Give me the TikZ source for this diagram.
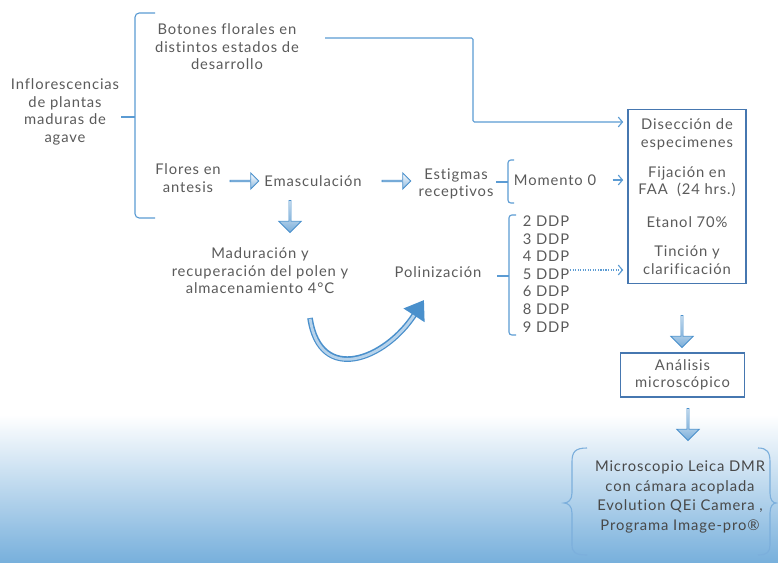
\documentclass[tikz,border=0pt]{standalone}
\usepackage{fontspec}
\setmainfont{Lato}[LetterSpace=6, Ligatures=NoCommon]
\usetikzlibrary{positioning,shapes.arrows,arrows.meta}
\definecolor{txtgray}{HTML}{5A5A5A}
\definecolor{lineblue}{HTML}{5B9BD3}
\definecolor{boxblue}{HTML}{4677B0}
\definecolor{arrowblue}{HTML}{4A90CC}
\definecolor{fadeblue}{HTML}{78B0DC}
\tikzset{
  every node/.style={text=txtgray, font=\fontsize{10.5}{12.5}\selectfont, inner sep=1.5pt},
  lbl/.style={align=center},
  conn/.style={lineblue, line width=0.8pt},
  arr/.style={conn, -{Straight Barb[length=3pt,width=7pt]}},
  hblock/.style={single arrow, draw=arrowblue, line width=0.6pt, inner sep=0pt,
    top color=white, bottom color=arrowblue!65, minimum height=0.72cm,
    minimum width=0.4cm, single arrow head extend=2.8pt},
  vblock/.style={hblock, shape border rotate=270, minimum height=0.8cm,
    minimum width=0.56cm, single arrow head extend=3pt,
    top color=white, bottom color=arrowblue!75},
  stepbox/.style={draw=boxblue, line width=0.8pt, align=center, inner sep=0pt}
}
\begin{document}
\begin{tikzpicture}[x=0.025cm, y=-0.025cm]
\useasboundingbox (0,0) rectangle (778,562);
% background
\shade[top color=white, bottom color=fadeblue] (0,415) rectangle (778,562);

% texts
\node[lbl] (infl) at (65,112) {Inflorescencias\\de plantas\\maduras de\\agave};
\node[lbl] (bot) at (227,47) {Botones florales en\\distintos estados de\\desarrollo};
\node[lbl] (flo) at (188,178) {Flores en\\antesis};
\node (emas) at (313,181) {Emasculación};
\node[lbl] (estig) at (456,184) {Estigmas\\receptivos};
\node (mom) at (555,180) {Momento 0};
\node[lbl] (madu) at (260,271) {Maduración y\\recuperación del polen y\\almacenamiento 4°C};
\node (poli) at (438,272) {Polinización};
\node[align=left] (ddp) at (546,274) {2 DDP\\3 DDP\\4 DDP\\5 DDP\\6 DDP\\8 DDP\\9 DDP};

% boxes
\node[stepbox, minimum width=2.95cm, minimum height=4.33cm] (box) at (687,196.5)
  {Disección de\\especimenes\\[8.8pt]Fijación en\\FAA~~(24 hrs.)\\[11pt]Etanol 70\%\\[8pt]Tinción y\\clarificación};
\node[stepbox, minimum width=3.12cm, minimum height=1.1cm] (anal) at (682.5,375)
  {Análisis\\microscópico};
\node[lbl, text=txtgray!80!black, font=\fontsize{10.5}{13.8}\selectfont] (micro) at (680,497)
  {Microscopio Leica DMR\\con cámara acoplada\\Evolution QEi Camera ,\\Programa Image-pro®};

% block arrows
\node[hblock] (a1) at (244,181) {};
\node[hblock] (a2) at (396,181) {};
\node[vblock] (d1) at (290,216) {};
\node[vblock] (d2) at (682,331) {};
\node[vblock] (d3) at (688,424) {};

% brackets
\coordinate (bkt) at (135,117);
\draw[conn, rounded corners=3pt] (155,13) -| (135,218) -- (155,218);
\draw[conn] (bkt -| infl.east) -- (bkt);
\draw[conn, rounded corners=2pt] (514,160) -| (508,203) -- (514,203);
\draw[conn] (496,182) -- (508,182);
\draw[conn, rounded corners=2pt] (516,215) -| (509,335) -- (516,335);
\draw[conn] (497,276) -- (509,276);

% braces
\draw[conn, lineblue!80] (587,448) .. controls (575,448) and (572,452) .. (572,462) -- (572,493)
  .. controls (572,500) and (568,503) .. (564,503) .. controls (568,503) and (572,506) .. (572,513)
  -- (572,545) .. controls (572,552) and (575,555) .. (587,555);
\draw[conn, lineblue!80] (758,448) .. controls (767,448) and (770,452) .. (770,462) -- (770,493)
  .. controls (770,500) and (773,503) .. (776,503) .. controls (773,503) and (770,506) .. (770,513)
  -- (770,545) .. controls (770,552) and (767,555) .. (758,555);

% connectors to the box
\coordinate (topl) at (325,38);
\coordinate (turn) at (473,122);
\draw[arr, rounded corners=1pt] (topl) -| (turn) -- ([xshift=-3pt]turn -| box.west);
\draw[arr] ([xshift=10pt]mom.east) -- ([xshift=-3pt]mom.east -| box.west);
\draw[arr, densely dotted] (570,270) -- ([xshift=-3pt]box.west |- {(0,270)});

% curved arrow
\coordinate (cs) at (310,318);
\coordinate (ce) at (424,300);
\draw[arrowblue, line width=4pt, -{Triangle[length=13pt,width=17pt]}]
  (cs) .. controls (320,385) and (385,360) .. (ce);
\draw[white!60!arrowblue, line width=2pt, shorten >=13pt, shorten <=0.6pt]
  (cs) .. controls (320,385) and (385,360) .. (ce);
\end{tikzpicture}
\end{document}
